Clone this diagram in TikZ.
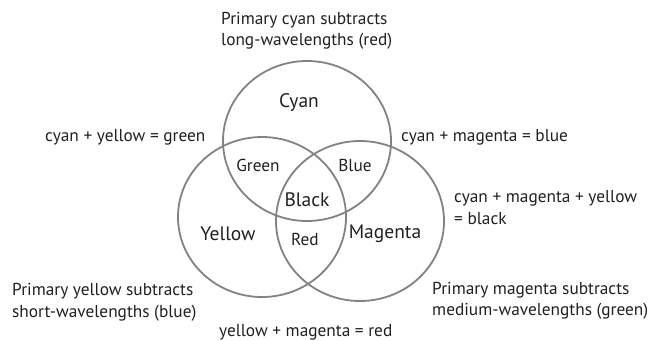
\documentclass[tikz,border=0pt]{standalone}
\usepackage{fontspec}
\setmainfont{PT Sans}
\usepackage{xcolor}
\usetikzlibrary{shapes.geometric}
\definecolor{ringgray}{RGB}{130,130,130}
\definecolor{inkgray}{RGB}{35,31,32}
\begin{document}
\begin{tikzpicture}[x=1pt, y=-1pt,
        ring/.style={ellipse, draw=ringgray, line width=1.8pt, minimum width=168pt, minimum height=160pt, inner sep=0pt},
        big/.style={text=inkgray, font=\fontsize{19.5}{23}\selectfont},
        small/.style={text=inkgray, font=\fontsize{17.3}{21}\selectfont},
        note/.style={text=inkgray, anchor=west, align=left, inner sep=0pt, font=\fontsize{17.3}{21.5}\selectfont}]
            \useasboundingbox (0,0) rectangle (652,340);

            % Cerchi
            \foreach \name/\x/\y in {cyan/307/141, yellow/262/217, magenta/360/221} {
                    \node[ring] (\name) at (\x,\y) {};
                }

            % Zone
            \foreach \name/\x/\y/\txt/\sty in {lcyan/299/103/Cyan/big, lgreen/258/165/Green/small, lblue/355/165/Blue/small,
                    lblack/307/200/Black/big, lyellow/228/234/Yellow/big, lred/305/239/Red/small, lmagenta/385/234/Magenta/big} {
                    \node[\sty] (\name) at (\x,\y) {\txt};
                }

            % Note
            \foreach \name/\x/\y/\txt in {ntop/221/31/{Primary cyan subtracts\\long-wavelengths (red)},
                    ncy/45/137/{cyan + yellow = green}, ncm/401/137/{cyan + magenta = blue},
                    ncmy/454/207.5/{cyan + magenta + yellow\\= black},
                    nyel/12/302.5/{Primary yellow subtracts\\short-wavelengths (blue)},
                    nmag/432/301/{Primary magenta subtracts\\medium-wavelengths (green)},
                    nym/219/332/{yellow + magenta = red}} {
                    \node[note] (\name) at (\x,\y) {\txt};
                }
        \end{tikzpicture}
\end{document}
